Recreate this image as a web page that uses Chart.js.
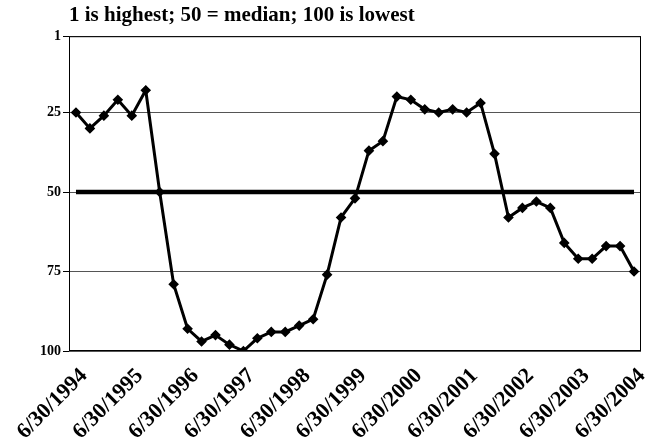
<!DOCTYPE html>
<html>
<head>
<meta charset="utf-8">
<script src="https://cdn.jsdelivr.net/npm/chart.js@4.4.1/dist/chart.umd.min.js"></script>
<style>
    html, body { margin: 0; padding: 0; background: #fff; }
    #wrap { width: 654px; height: 445px; }
</style>
</head>
<body>
<div id="wrap"><canvas id="rank-chart"></canvas></div>
<script>
// Quarter-end dates, 6/30/1994 .. 6/30/2004
const quarters = [
    '6/30/1994', '9/30/1994', '12/31/1994', '3/31/1995',
    '6/30/1995', '9/30/1995', '12/31/1995', '3/31/1996',
    '6/30/1996', '9/30/1996', '12/31/1996', '3/31/1997',
    '6/30/1997', '9/30/1997', '12/31/1997', '3/31/1998',
    '6/30/1998', '9/30/1998', '12/31/1998', '3/31/1999',
    '6/30/1999', '9/30/1999', '12/31/1999', '3/31/2000',
    '6/30/2000', '9/30/2000', '12/31/2000', '3/31/2001',
    '6/30/2001', '9/30/2001', '12/31/2001', '3/31/2002',
    '6/30/2002', '9/30/2002', '12/31/2002', '3/31/2003',
    '6/30/2003', '9/30/2003', '12/31/2003', '3/31/2004',
    '6/30/2004'
];

// Percentile rank per quarter (1 = highest, 100 = lowest)
const rankValues = [
    25, 30, 26, 21, 26, 18, 50, 79,
    93, 97, 95, 98, 100, 96, 94, 94,
    92, 90, 76, 58, 52, 37, 34, 20,
    21, 24, 25, 24, 25, 22, 38, 58,
    55, 53, 55, 66, 71, 71, 67, 67,
    75
];

const MEDIAN = 50;
const yTicks = [1, 25, 50, 75, 100];

const serif = "'Liberation Serif', 'Times New Roman', serif";

// Box round the plot area
const plotFrame = {
    id: 'plotFrame',
    beforeDatasetsDraw(chart) {
        const { ctx, chartArea: a } = chart;
        ctx.save();
        ctx.strokeStyle = '#000';
        ctx.lineWidth = 1;
        ctx.strokeRect(a.left + 0.5, a.top + 0.5, a.right - a.left - 1, a.bottom - a.top - 1);
        ctx.restore();
    }
};

new Chart(document.getElementById('rank-chart'), {
    type: 'line',
    data: {
        labels: quarters,
        datasets: [
            {
                label: 'Median',
                data: quarters.map(() => MEDIAN),
                borderColor: '#000',
                borderWidth: 4.5,
                pointRadius: 0,
                order: 2,
            },
            {
                label: 'Rank',
                data: rankValues,
                borderColor: '#000',
                backgroundColor: '#000',
                borderWidth: 3,
                pointStyle: 'rectRot',
                pointRadius: 3.2,
                pointBackgroundColor: '#000',
                pointBorderColor: '#000',
                tension: 0,
                order: 1,
            }
        ]
    },
    options: {
        responsive: true,
        maintainAspectRatio: false,
        animation: false,
        layout: { padding: { left: 0, right: 13, top: 0, bottom: 0 } },
        plugins: {
            legend: { display: false },
            tooltip: { enabled: false },
            title: {
                display: true,
                text: '1 is highest; 50 = median; 100 is lowest',
                align: 'start',
                fullSize: false,
                color: '#000',
                font: { family: serif, size: 21, weight: 'bold' },
                padding: { top: 3, bottom: 8 },
            }
        },
        scales: {
            x: {
                offset: true,
                grid: { display: false, drawTicks: false },
                border: { display: false },
                ticks: {
                    autoSkip: false,
                    minRotation: 45,
                    maxRotation: 45,
                    padding: 12,
                    labelOffset: 8,
                    color: '#000',
                    font: { family: serif, size: 22, weight: 'bold' },
                    callback: function(val, i) {
                        const lbl = quarters[i];
                        return lbl.startsWith('6/30') ? lbl : '';
                    }
                },
                afterFit: scale => {
                    scale.height = 94;
                    scale.paddingLeft = 0;
                    scale.paddingRight = 0;
                },
            },
            y: {
                reverse: true,
                min: 1,
                max: 100,
                afterBuildTicks: axis => { axis.ticks = yTicks.map(v => ({ value: v })); },
                grid: {
                    color: '#555',
                    lineWidth: 1,
                    drawTicks: true,
                    tickLength: 6,
                    tickColor: '#000',
                },
                border: { display: false },
                ticks: {
                    padding: 2,
                    color: '#000',
                    font: { family: serif, size: 14, weight: 'bold' },
                },
                afterFit: scale => { scale.width = 69; },
            }
        }
    },
    plugins: [plotFrame]
});
</script>
</body>
</html>
